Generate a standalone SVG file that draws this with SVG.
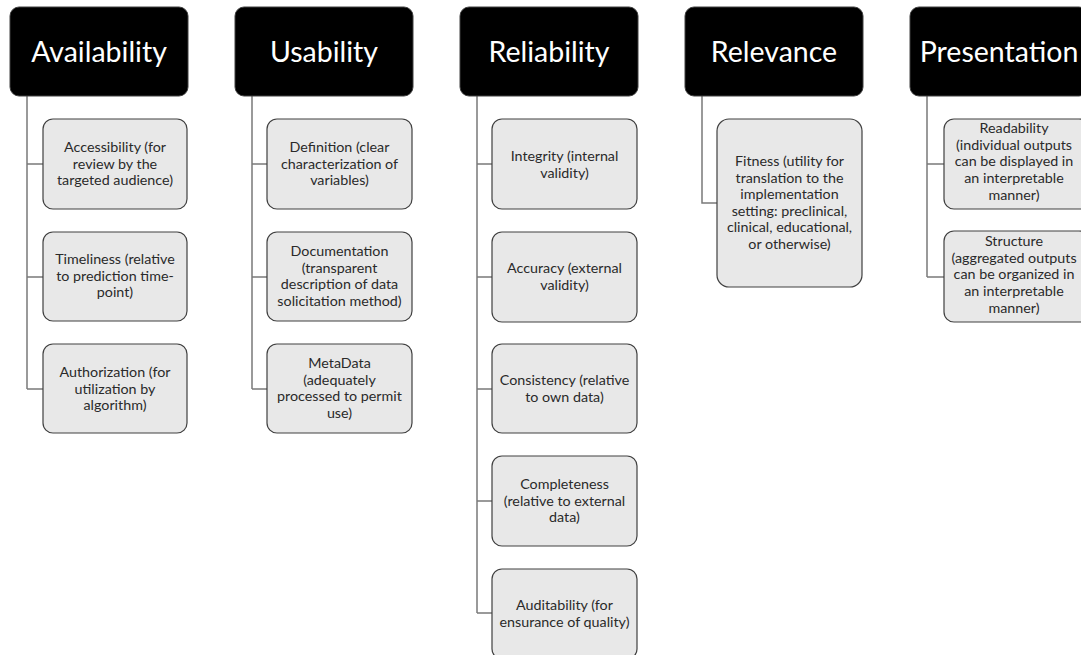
<svg xmlns="http://www.w3.org/2000/svg" width="1081" height="655" viewBox="0 0 1081 655">
<style>
.hd{fill:#000;stroke:#404040;stroke-width:1}
.ht{fill:#fff;font-family:Lato,"Open Sans",sans-serif;font-size:28.5px;text-anchor:middle}
.bx{fill:#e8e8e8;stroke:#404040;stroke-width:1.2}
.bt{fill:#2a2a2a;font-family:Lato,"Open Sans",sans-serif;font-size:14.3px;text-anchor:middle}
.cn{fill:none;stroke:#7a7a7a;stroke-width:1.5}
</style>
<rect width="1081" height="655" fill="#fff"/>
<g id="connectors">
<path class="cn" d="M27,96V389M27,164H43M27,277H43M27,389H43"/>
<path class="cn" d="M252,96V389M252,164H267M252,277H267M252,389H267"/>
<path class="cn" d="M477,96V613M477,164H492M477,277H492M477,389H492M477,501H492M477,613H492"/>
<path class="cn" d="M702,96V203H717"/>
<path class="cn" d="M927,96V277M927,164H944M927,277H944"/>
</g>
<g id="availability"><rect class="hd" x="10" y="7" width="178" height="89" rx="9"/><text class="ht" x="99" y="62">Availability</text></g>
<g id="usability"><rect class="hd" x="235" y="7" width="178" height="89" rx="9"/><text class="ht" x="324" y="62">Usability</text></g>
<g id="reliability"><rect class="hd" x="460" y="7" width="178" height="89" rx="9"/><text class="ht" x="549" y="62">Reliability</text></g>
<g id="relevance"><rect class="hd" x="685" y="7" width="178" height="89" rx="9"/><text class="ht" x="774" y="62">Relevance</text></g>
<g id="presentation"><rect class="hd" x="910" y="7" width="178" height="89" rx="9"/><text class="ht" x="999" y="62">Presentation</text></g>

<g id="accessibility"><rect class="bx" x="43" y="119" width="144" height="90" rx="10"/><text class="bt" x="115" y="152">Accessibility (for<tspan x="115" dy="16.7">review by the</tspan><tspan x="115" dy="16.7">targeted audience)</tspan></text></g>
<g id="timeliness"><rect class="bx" x="43" y="232" width="144" height="89" rx="10"/><text class="bt" x="115" y="264">Timeliness (relative<tspan x="115" dy="16.7">to prediction time-</tspan><tspan x="115" dy="16.7">point)</tspan></text></g>
<g id="authorization"><rect class="bx" x="43" y="344" width="144" height="89" rx="10"/><text class="bt" x="115" y="377">Authorization (for<tspan x="115" dy="16.7">utilization by</tspan><tspan x="115" dy="16.7">algorithm)</tspan></text></g>

<g id="definition"><rect class="bx" x="267" y="119" width="145" height="90" rx="10"/><text class="bt" x="339.5" y="152">Definition (clear<tspan x="339.5" dy="16.7">characterization of</tspan><tspan x="339.5" dy="16.7">variables)</tspan></text></g>
<g id="documentation"><rect class="bx" x="267" y="232" width="145" height="89" rx="10"/><text class="bt" x="339.5" y="256">Documentation<tspan x="339.5" dy="16.7">(transparent</tspan><tspan x="339.5" dy="16.7">description of data</tspan><tspan x="339.5" dy="16.7">solicitation method)</tspan></text></g>
<g id="metadata"><rect class="bx" x="267" y="344" width="145" height="89" rx="10"/><text class="bt" x="339.5" y="368">MetaData<tspan x="339.5" dy="16.7">(adequately</tspan><tspan x="339.5" dy="16.7">processed to permit</tspan><tspan x="339.5" dy="16.7">use)</tspan></text></g>

<g id="integrity"><rect class="bx" x="492" y="119" width="145" height="90" rx="10"/><text class="bt" x="564.5" y="161">Integrity (internal<tspan x="564.5" dy="16.7">validity)</tspan></text></g>
<g id="accuracy"><rect class="bx" x="492" y="232" width="145" height="90" rx="10"/><text class="bt" x="564.5" y="273">Accuracy (external<tspan x="564.5" dy="16.7">validity)</tspan></text></g>
<g id="consistency"><rect class="bx" x="492" y="344" width="145" height="89" rx="10"/><text class="bt" x="564.5" y="385">Consistency (relative<tspan x="564.5" dy="16.7">to own data)</tspan></text></g>
<g id="completeness"><rect class="bx" x="492" y="456" width="145" height="90" rx="10"/><text class="bt" x="564.5" y="489">Completeness<tspan x="564.5" dy="16.7">(relative to external</tspan><tspan x="564.5" dy="16.7">data)</tspan></text></g>
<g id="auditability"><rect class="bx" x="492" y="569" width="145" height="90" rx="10"/><text class="bt" x="564.5" y="610">Auditability (for<tspan x="564.5" dy="16.7">ensurance of quality)</tspan></text></g>

<g id="fitness"><rect class="bx" x="717" y="119" width="145" height="168" rx="12"/><text class="bt" x="789.5" y="166">Fitness (utility for<tspan x="789.5" dy="16.5">translation to the</tspan><tspan x="789.5" dy="16.5">implementation</tspan><tspan x="789.5" dy="16.5">setting: preclinical,</tspan><tspan x="789.5" dy="16.5">clinical, educational,</tspan><tspan x="789.5" dy="16.5">or otherwise)</tspan></text></g>

<g id="readability"><rect class="bx" x="944" y="119" width="145" height="90" rx="10"/><text class="bt" x="1014" y="133">Readability<tspan x="1014" dy="16.7">(individual outputs</tspan><tspan x="1014" dy="16.7">can be displayed in</tspan><tspan x="1014" dy="16.7">an interpretable</tspan><tspan x="1014" dy="16.7">manner)</tspan></text></g>
<g id="structure"><rect class="bx" x="944" y="231" width="145" height="91" rx="10"/><text class="bt" x="1014" y="246">Structure<tspan x="1014" dy="16.7">(aggregated outputs</tspan><tspan x="1014" dy="16.7">can be organized in</tspan><tspan x="1014" dy="16.7">an interpretable</tspan><tspan x="1014" dy="16.7">manner)</tspan></text></g>
</svg>
